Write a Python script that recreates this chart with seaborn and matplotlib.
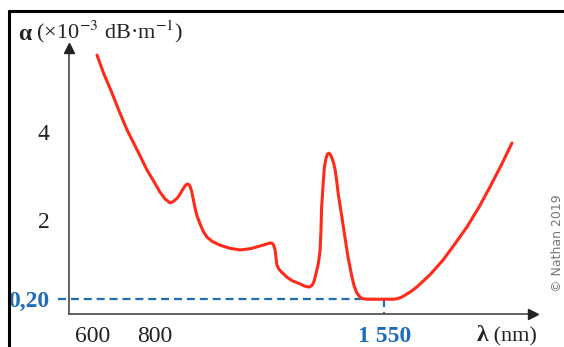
import matplotlib
matplotlib.use("Agg")
import matplotlib.pyplot as plt
import numpy as np
import pandas as pd
import seaborn as sns
from matplotlib.lines import Line2D

# ---- data ----
wavelength_nm = [613, 635, 660, 685, 711, 745, 776, 800, 818, 835, 851, 862, 875,
                 885, 895, 903, 910, 916, 922, 927, 933, 940, 950, 960, 972, 990,
                 1014, 1045, 1080, 1115, 1145, 1160, 1178, 1185, 1190, 1194, 1197,
                 1200, 1207, 1215, 1233, 1250, 1275, 1290, 1301, 1308, 1315, 1320,
                 1324, 1330, 1335, 1338, 1341, 1344, 1346, 1349, 1351, 1355, 1360,
                 1365, 1370, 1375, 1380, 1385, 1390, 1395, 1400, 1405, 1412, 1420,
                 1432, 1438, 1445, 1452, 1461, 1470, 1475, 1481, 1500, 1520, 1560,
                 1580, 1592, 1605, 1620, 1638, 1657, 1700, 1742, 1780, 1820, 1860,
                 1895, 1930, 1967]
attenuation = [5.75, 5.33, 4.92, 4.48, 4.05, 3.58, 3.14, 2.86, 2.64, 2.48, 2.39,
               2.42, 2.50, 2.60, 2.72, 2.80, 2.82, 2.78, 2.65, 2.48, 2.27, 2.08,
               1.90, 1.74, 1.61, 1.51, 1.43, 1.36, 1.32, 1.35, 1.41, 1.44, 1.48,
               1.47, 1.42, 1.32, 1.15, 0.98, 0.88, 0.82, 0.70, 0.62, 0.55, 0.50,
               0.48, 0.48, 0.52, 0.58, 0.68, 0.85, 1.00, 1.15, 1.32, 1.80, 2.30,
               2.60, 2.84, 3.20, 3.40, 3.50, 3.52, 3.48, 3.40, 3.30, 3.14, 2.90,
               2.60, 2.38, 2.07, 1.70, 1.16, 0.95, 0.70, 0.50, 0.34, 0.26, 0.23,
               0.21, 0.20, 0.20, 0.20, 0.20, 0.21, 0.24, 0.30, 0.38, 0.48, 0.76,
               1.09, 1.45, 1.84, 2.30, 2.75, 3.22, 3.75]
x_ticks = [600, 800, 1000, 1200, 1400, 1600, 1800]
x_tick_labels = ["600", "800", "", "", "", "", ""]
y_ticks = [2, 4]
y_tick_labels = ["2", "4"]
min_wavelength = 1550
min_attenuation = 0.20
min_wavelength_label = "1 550"
min_attenuation_label = "0,20"

# ---- style ----
sns.set_theme(style="white")
plt.rcParams['font.family'] = ['Liberation Serif', 'DejaVu Serif']
plt.rcParams['mathtext.fontset'] = 'stix'

RED = "#ff2a1a"
BLUE = "#1f6db5"
AXC = "#555555"
FS = 17

fig = plt.figure(figsize=(5.64, 3.47), dpi=100)
ax = fig.add_axes([69 / 564, 33 / 347, (533 - 69) / 564, (314 - 48) / 347])

df = pd.DataFrame({"wl": wavelength_nm, "a": attenuation})
sns.lineplot(data=df, x="wl", y="a", ax=ax, color=RED, lw=2.2,
             sort=False, estimator=None, zorder=3)
ax.lines[-1].set_solid_joinstyle("round")

ax.set_xlim(521.7, 2035.6)
ax.set_ylim(-0.136, 5.91)
ax.set_xlabel("")
ax.set_ylabel("")

# ticks
ax.set_xticks(x_ticks + [min_wavelength])
ax.set_xticklabels(x_tick_labels + [min_wavelength_label])
ax.set_yticks([min_attenuation] + y_ticks)
ax.set_yticklabels([min_attenuation_label] + y_tick_labels)
ax.tick_params(axis="both", direction="out", length=6, width=1.1, color=AXC,
               labelsize=FS, labelcolor="#222222", pad=3)
ax.tick_params(axis="y", pad=8)
for lab in ax.get_xticklabels():
    if lab.get_text() == min_wavelength_label:
        lab.set_color(BLUE)
        lab.set_fontweight("bold")
for lab in ax.get_yticklabels():
    if lab.get_text() == min_attenuation_label:
        lab.set_color(BLUE)
        lab.set_fontweight("bold")
xt = ax.xaxis.get_major_ticks()
xt[-1].tick1line.set_color(BLUE)
yt = ax.yaxis.get_major_ticks()
yt[0].tick1line.set_color(BLUE)

# spines
for s in ["top", "right"]:
    ax.spines[s].set_visible(False)
for s in ["left", "bottom"]:
    ax.spines[s].set_color(AXC)
    ax.spines[s].set_linewidth(1.3)
ax.plot([1], [0], marker=">", color="#222222", ms=7, transform=ax.transAxes,
        clip_on=False, zorder=5)
ax.plot([0], [1], marker="^", color="#222222", ms=7, transform=ax.transAxes,
        clip_on=False, zorder=5)

# dashed guides at the minimum
ax.plot([486, min_wavelength], [min_attenuation, min_attenuation], color=BLUE,
        lw=1.6, ls=(0, (3.6, 2.2)), clip_on=False, zorder=2)
ax.plot([min_wavelength, min_wavelength], [min_attenuation, -0.136], color=BLUE,
        lw=1.6, ls=(0, (3.6, 2.2)), clip_on=False, zorder=2)

# axis titles
t1 = fig.text(18 / 564, 1 - 40 / 347, "α", fontsize=FS, fontweight="bold",
              color="#222222", va="baseline", ha="left")
ax.annotate(r" (×10$^{-3}$ dB·m$^{-1}$)", xy=(1, 0), xycoords=t1,
            fontsize=FS - 1, color="#222222", va="bottom", ha="left")
t2 = fig.text(477 / 564, 1 - 341 / 347, "λ", fontsize=FS, fontweight="bold",
              color="#222222", va="baseline", ha="left")
ax.annotate(" (nm)", xy=(1, 0), xycoords=t2, fontsize=FS - 1,
            color="#222222", va="bottom", ha="left")

# frame lines of the page and watermark
fig.add_artist(Line2D([8.5 / 564, 8.5 / 564], [0, 1 - 11 / 347], color="black",
                      lw=2.2, transform=fig.transFigure))
fig.add_artist(Line2D([8.5 / 564, 1], [1 - 11 / 347, 1 - 11 / 347],
                      color="black", lw=2.2, transform=fig.transFigure))
fig.text(551 / 564, 0.30, "© Nathan 2019", rotation=90, fontsize=9,
         color="#777777", ha="left", va="center", family="DejaVu Sans")

fig.savefig("out.png", dpi=100)
